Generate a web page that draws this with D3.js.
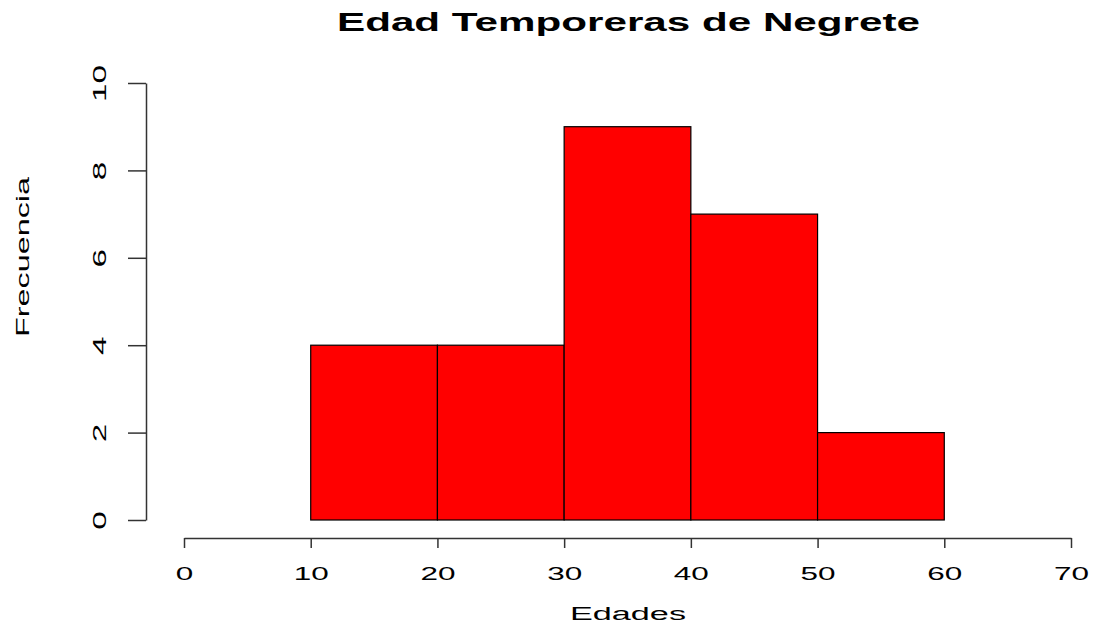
<!DOCTYPE html>
<html>
<head>
<meta charset="utf-8">
<script src="https://d3js.org/d3.v7.min.js"></script>
<style>
  body { margin: 0; background: #fff; }
  text { font-family: "Liberation Sans", Arial, sans-serif; fill: #000; }
</style>
</head>
<body>
<script>
// histogram data: bin edges and counts
const breaks = [10, 20, 30, 40, 50, 60];
const counts = [4, 4, 9, 7, 2];
const xTicks = [0, 10, 20, 30, 40, 50, 60, 70];
const yTicks = [0, 2, 4, 6, 8, 10];
const title = 'Edad Temporeras de Negrete';
const xLabel = 'Edades';
const yLabel = 'Frecuencia';

const w = 1093, h = 625;
const svg = d3.select('body').append('svg')
  .attr('width', w).attr('height', h);

const x = d3.scaleLinear().domain([0, 70]).range([184, 1071]);
const y = d3.scaleLinear().domain([0, 10]).range([520, 83]);

const bins = counts.map((c, i) => ({ x0: breaks[i], x1: breaks[i + 1], n: c }));

svg.selectAll('rect.bar')
  .data(bins)
  .enter().append('rect')
  .attr('class', 'bar')
  .attr('x', d => x(d.x0))
  .attr('y', d => y(d.n))
  .attr('width', d => x(d.x1) - x(d.x0))
  .attr('height', d => y(0) - y(d.n))
  .attr('fill', '#ff0000')
  .attr('stroke', '#000')
  .attr('stroke-width', 1.2);

// x axis
const gx = svg.append('g')
  .attr('transform', 'translate(0,538)')
  .call(d3.axisBottom(x).tickValues(xTicks).tickSize(10).tickSizeOuter(0).tickFormat(d3.format('d')));
gx.select('.domain').attr('stroke', '#333').attr('stroke-width', 1.5);
gx.selectAll('.tick line').attr('stroke', '#333').attr('stroke-width', 1.5);
gx.selectAll('.tick text')
  .attr('y', 42).attr('dy', 0)
  .style('font-size', '18px')
  .attr('textLength', d => String(d).length * 17.5)
  .attr('lengthAdjust', 'spacingAndGlyphs');

// y axis
const gy = svg.append('g')
  .attr('transform', 'translate(146,0)')
  .call(d3.axisLeft(y).tickValues(yTicks).tickSize(18).tickSizeOuter(0));
gy.select('.domain').attr('stroke', '#333').attr('stroke-width', 1.5);
gy.selectAll('.tick line').attr('stroke', '#333').attr('stroke-width', 1.5);
gy.selectAll('.tick text')
  .attr('x', 0).attr('dy', 0)
  .attr('text-anchor', 'middle')
  .attr('transform', 'translate(-40,0) rotate(-90)')
  .style('font-size', '18px')
  .attr('textLength', d => String(d).length * 18.5)
  .attr('lengthAdjust', 'spacingAndGlyphs');

svg.selectAll('g').attr('font-family', null).attr('font-size', null);

// titles
svg.append('text')
  .attr('x', 628.5).attr('y', 31)
  .attr('text-anchor', 'middle')
  .style('font-size', '26px').style('font-weight', 'bold')
  .attr('textLength', 583).attr('lengthAdjust', 'spacingAndGlyphs')
  .text(title);

svg.append('text')
  .attr('x', 628).attr('y', 620)
  .attr('text-anchor', 'middle')
  .style('font-size', '18px')
  .attr('textLength', 116).attr('lengthAdjust', 'spacingAndGlyphs')
  .text(xLabel);

svg.append('text')
  .attr('transform', 'translate(29,257) rotate(-90)')
  .attr('text-anchor', 'middle')
  .style('font-size', '18px')
  .attr('textLength', 160).attr('lengthAdjust', 'spacingAndGlyphs')
  .text(yLabel);
</script>
</body>
</html>
